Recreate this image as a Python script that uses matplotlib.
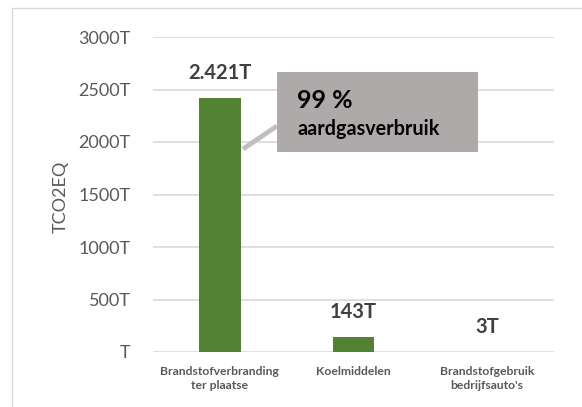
import matplotlib
matplotlib.use("Agg")
import matplotlib.pyplot as plt
from matplotlib.patches import Rectangle

plt.rcParams['font.family'] = ['Lato', 'DejaVu Sans']

categories = ["Brandstofverbranding\nter plaatse", "Koelmiddelen", "Brandstofgebruik\nbedrijfsauto's"]
values = [2421, 143, 3]
value_labels = ["2.421T", "143T", "3T"]
yticks = [0, 500, 1000, 1500, 2000, 2500, 3000]
ytick_labels = ["T", "500T", "1000T", "1500T", "2000T", "2500T", "3000T"]

W, H = 582, 407
fig = plt.figure(figsize=(W / 100, H / 100), dpi=100)
ax = fig.add_axes([153 / W, 1 - 352 / H, (554 - 153) / W, (352 - 37) / H])

grey_txt = "#595959"
x = range(len(categories))
ax.bar(x, values, width=0.31, color="#548235", zorder=3)
ax.set_xlim(-0.5, 2.5)
ax.set_ylim(0, 3000)
ax.set_yticks(yticks)
ax.set_yticklabels(ytick_labels, fontsize=13, color=grey_txt)
ax.set_xticks(list(x))
ax.set_xticklabels(categories, fontsize=8.7, fontweight="bold", color=grey_txt, linespacing=1.3)
ax.tick_params(axis="both", length=0)
ax.tick_params(axis="y", pad=16)
ax.tick_params(axis="x", pad=10)
ax.grid(axis="y", color="#D9D9D9", linewidth=1.2, zorder=0)
for s in ax.spines.values():
    s.set_visible(False)
fig.text(61 / W, 1 - 197 / H, "TCO2EQ", rotation=90, fontsize=13, color=grey_txt,
         ha="center", va="center")

for xi, v, lab in zip(x, values, value_labels):
    ax.annotate(lab, (xi, v), xytext=(0, 25), textcoords="offset pixels",
                ha="center", va="center", fontsize=14.5, fontweight="bold", color="#404040")

# callout box
fig.add_artist(Rectangle((277 / W, 1 - 152 / H), (478 - 277) / W, (152 - 72) / H,
                         transform=fig.transFigure, facecolor="#AEAAAA", edgecolor="none", zorder=5))
fig.add_artist(plt.Line2D([243 / W, 277 / W], [1 - 149 / H, 1 - 126 / H], transform=fig.transFigure,
                          color="#BFBFBF", linewidth=3.5, zorder=4, solid_capstyle="butt"))
fig.text(297 / W, 1 - 100 / H, "99 %", fontsize=18, fontweight="bold", color="black", va="center", zorder=6)
fig.text(297 / W, 1 - 129 / H, "aardgasverbruik", fontsize=14.2, fontweight="bold", color="black", va="center", zorder=6)

# outer frame
fig.add_artist(Rectangle((12 / W, -0.1), 1.2, 1 - 8 / H + 0.1, transform=fig.transFigure,
                         facecolor="none", edgecolor="#D9D9D9", linewidth=1))

fig.savefig("out.png", dpi=100)
